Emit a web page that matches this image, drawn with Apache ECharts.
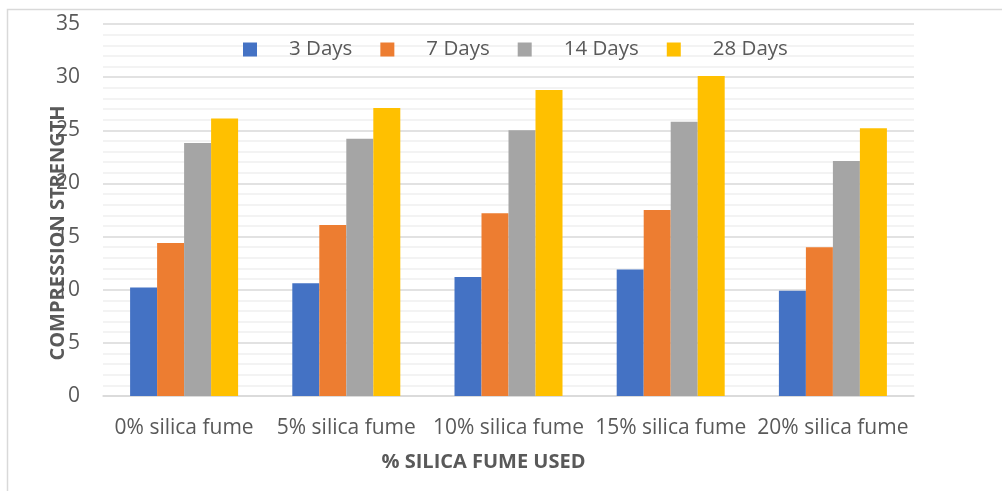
<!DOCTYPE html>
<html>
<head>
<meta charset="utf-8">
<script src="https://cdn.jsdelivr.net/npm/echarts@6/dist/echarts.min.js"></script>
<style>
  html, body { margin: 0; padding: 0; background: #ffffff; }
  #chart { width: 1002px; height: 491px; }
</style>
</head>
<body>
<div id="chart"></div>
<script>
// Compression strength by silica fume content and curing age
const categories = ['0% silica fume', '5% silica fume', '10% silica fume', '15% silica fume', '20% silica fume'];
const seriesNames = ['3 Days', '7 Days', '14 Days', '28 Days'];
const days3  = [10.2, 10.6, 11.2, 11.9, 9.9];
const days7  = [14.4, 16.1, 17.2, 17.5, 14.0];
const days14 = [23.8, 24.2, 25.0, 25.8, 22.1];
const days28 = [26.1, 27.1, 28.8, 30.1, 25.2];
const xTitle = '% SILICA FUME USED';
const yTitle = 'COMPRESSION STRENGTH';

const colors = ['#4472c4', '#ed7d31', '#a5a5a5', '#ffc000'];
const textColor = '#595959';
const font = 'Open Sans';

const chart = echarts.init(document.getElementById('chart'), null, { renderer: 'canvas' });

const values = [days3, days7, days14, days28];
const series = seriesNames.map((name, i) => ({
  name: name,
  type: 'bar',
  data: values[i],
  barWidth: 27,
  barGap: '0%',
  itemStyle: { color: colors[i] }
}));

chart.setOption({
  animation: false,
  backgroundColor: '#ffffff',
  color: colors,
  textStyle: { fontFamily: font },
  grid: { left: 103, right: 88, top: 24, bottom: 95, containLabel: false },
  legend: {
    left: 243,
    top: 39,
    padding: 0,
    itemWidth: 14,
    itemHeight: 14,
    itemGap: 28,
    icon: 'rect',
    data: seriesNames,
    textStyle: { fontFamily: font, fontSize: 20.5, color: textColor, lineHeight: 20, padding: [0, 0, 0, 27] }
  },
  xAxis: {
    type: 'category',
    data: categories,
    axisTick: { show: false },
    axisLine: { lineStyle: { color: '#d9d9d9', width: 1.5 } },
    axisLabel: { interval: 0, fontFamily: font, fontSize: 21, color: textColor, margin: 22 }
  },
  yAxis: {
    type: 'value',
    min: 0,
    max: 35,
    interval: 5,
    axisLine: { show: false },
    axisTick: { show: false },
    axisLabel: { fontFamily: font, fontSize: 21, color: textColor, margin: 23 },
    splitLine: { lineStyle: { color: '#d9d9d9', width: 1.5 } },
    minorTick: { show: false, splitNumber: 5 },
    minorSplitLine: { show: true, lineStyle: { color: '#f0f0f0', width: 1.5 } }
  },
  graphic: [
    {
      type: 'rect',
      silent: true,
      shape: { x: 7.5, y: 9.5, width: 1000, height: 490 },
      style: { fill: 'none', stroke: '#d9d9d9', lineWidth: 1.5 }
    },
    {
      type: 'text',
      x: 483.5,
      y: 462,
      style: {
        text: xTitle,
        fontFamily: font,
        fontSize: 20,
        fontWeight: 'bold',
        fill: textColor,
        align: 'center',
        verticalAlign: 'middle'
      }
    },
    {
      type: 'text',
      x: 58.5,
      y: 233,
      rotation: Math.PI / 2,
      style: {
        text: yTitle,
        fontFamily: font,
        fontSize: 20,
        fontWeight: 'bold',
        fill: textColor,
        align: 'center',
        verticalAlign: 'middle'
      }
    }
  ],
  series: series
});
</script>
</body>
</html>
